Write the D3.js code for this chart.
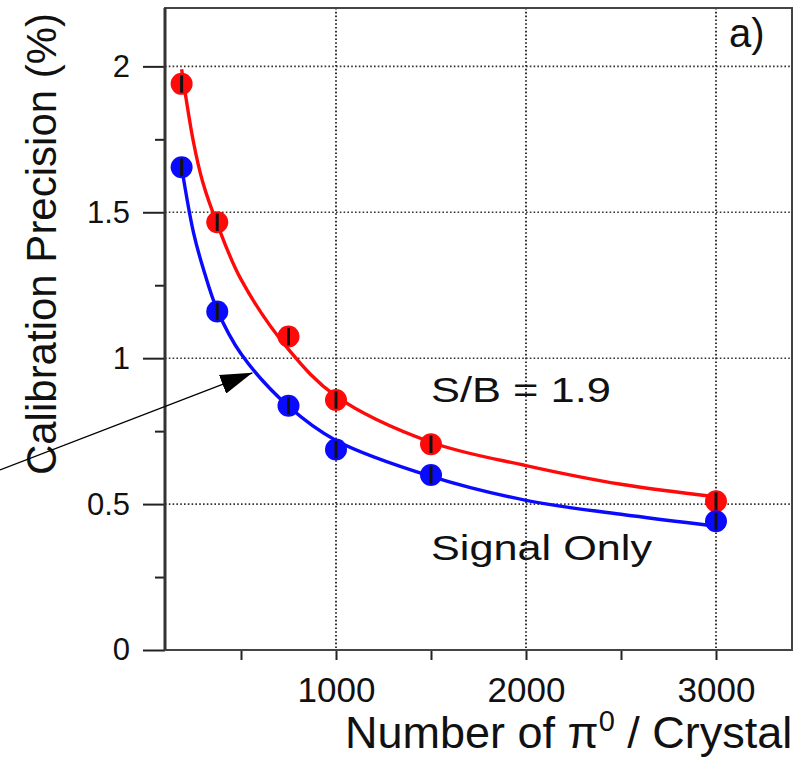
<!DOCTYPE html>
<html>
<head>
<meta charset="utf-8">
<script src="https://d3js.org/d3.v7.min.js"></script>
<style>
  body { margin: 0; background: #fff; }
  svg { display: block; }
  text { font-family: "Liberation Sans", Arial, Helvetica, sans-serif; fill: #111; }
</style>
</head>
<body>
<script>
// measured points (number of pi0 per crystal)
var nPi0 = [187.5, 375, 750, 1000, 1500, 3000];
var precSB = [1.94, 1.466, 1.074, 0.857, 0.705, 0.51];     // S/B = 1.9
var precSig = [1.654, 1.16, 0.837, 0.687, 0.6, 0.441];     // signal only
var errSB = [0.03, 0.03, 0.03, 0.03, 0.03, 0.03];
var errSig = [0.03, 0.03, 0.03, 0.03, 0.03, 0.03];

// fitted curves
var fitX = [187.5, 250, 300, 375, 500, 750, 1000, 1500, 2000, 2500, 3000];
var fitSB = [1.99, 1.74, 1.60, 1.46, 1.27, 1.03, 0.87, 0.712, 0.632, 0.568, 0.525];
var fitSig = [1.654, 1.43, 1.31, 1.165, 1.015, 0.835, 0.718, 0.595, 0.513, 0.465, 0.424];

var xMajor = [1000, 2000, 3000];
var xMinor = [500, 1500, 2500];
var yMajor = [0, 0.5, 1, 1.5, 2];
var yMinor = [0.25, 0.75, 1.25, 1.75];

var W = 809, H = 758;
var pL = 165, pR = 792, pT = 8, pB = 650;

var svg = d3.select("body").append("svg")
    .attr("width", W)
    .attr("height", H);

var x = d3.scaleLinear().domain([100, 3400]).range([pL, pR]);
var y = d3.scaleLinear().domain([0, 2.2]).range([pB, pT]);

// grid
svg.append("g").selectAll("line")
    .data(yMajor.filter(function (d) { return d > 0; }))
    .enter().append("line")
    .attr("x1", pL).attr("x2", pR)
    .attr("y1", function (d) { return y(d); })
    .attr("y2", function (d) { return y(d); })
    .attr("stroke", "#333").attr("stroke-width", 1.6)
    .attr("stroke-dasharray", "1.6,2.2");
svg.append("g").selectAll("line")
    .data(xMajor)
    .enter().append("line")
    .attr("y1", pT).attr("y2", pB)
    .attr("x1", function (d) { return x(d); })
    .attr("x2", function (d) { return x(d); })
    .attr("stroke", "#222").attr("stroke-width", 1.8)
    .attr("stroke-dasharray", "1.6,2.2");

// axes
var yAx = svg.append("g").attr("transform", "translate(" + pL + ",0)")
    .call(d3.axisLeft(y).tickValues(yMajor).tickSize(22).tickPadding(13)
      .tickFormat(function (d) { return d; }));
svg.append("g").attr("transform", "translate(" + pL + ",0)")
    .call(d3.axisLeft(y).tickValues(yMinor).tickSize(10).tickFormat(""));
var xAx = svg.append("g").attr("transform", "translate(0," + pB + ")")
    .call(d3.axisBottom(x).tickValues(xMajor).tickSize(10).tickPadding(17)
      .tickFormat(d3.format("d")));
svg.append("g").attr("transform", "translate(0," + pB + ")")
    .call(d3.axisBottom(x).tickValues(xMinor).tickSize(10).tickFormat(""));

svg.selectAll(".domain").remove();
svg.selectAll(".tick line").attr("stroke", "#222").attr("stroke-width", 2);
yAx.selectAll("text").style("font-size", "31px")
    .style("font-family", "Liberation Sans, Arial, sans-serif").attr("fill", "#111");
xAx.selectAll("text").style("font-size", "35px")
    .style("font-family", "Liberation Sans, Arial, sans-serif").attr("fill", "#111");

// frame
svg.append("rect")
    .attr("x", pL).attr("y", pT)
    .attr("width", pR - pL).attr("height", pB - pT)
    .attr("fill", "none").attr("stroke", "#444").attr("stroke-width", 2);
svg.append("line")
    .attr("x1", pL).attr("x2", pL).attr("y1", pT).attr("y2", pB)
    .attr("stroke", "#333").attr("stroke-width", 3);

// fitted curves
var line = d3.line()
    .x(function (d) { return x(d[0]); })
    .y(function (d) { return y(d[1]); })
    .curve(d3.curveCatmullRom.alpha(0.5));

svg.append("path")
    .datum(d3.zip(fitX, fitSB))
    .attr("d", line)
    .attr("fill", "none").attr("stroke", "#ff0a0a").attr("stroke-width", 3.4);
svg.append("path")
    .datum(d3.zip(fitX, fitSig))
    .attr("d", line)
    .attr("fill", "none").attr("stroke", "#0a0aff").attr("stroke-width", 3.4);

// points with error bars
function drawPoints(vals, errs, col) {
  var g = svg.append("g");
  var pts = d3.zip(nPi0, vals, errs);
  g.selectAll("circle").data(pts).enter().append("circle")
    .attr("cx", function (d) { return x(d[0]); })
    .attr("cy", function (d) { return y(d[1]); })
    .attr("r", 11)
    .attr("fill", col);
  g.selectAll("line").data(pts).enter().append("line")
    .attr("x1", function (d) { return x(d[0]); })
    .attr("x2", function (d) { return x(d[0]); })
    .attr("y1", function (d) { return y(d[1] - d[2]); })
    .attr("y2", function (d) { return y(d[1] + d[2]); })
    .attr("stroke", "#111").attr("stroke-width", 3);
}
drawPoints(precSB, errSB, "#ff0a0a");
drawPoints(precSig, errSig, "#0a0aff");

// labels
svg.append("text")
    .attr("x", 729).attr("y", 47)
    .style("font-size", "40px")
    .text("a)");
svg.append("text")
    .attr("x", 431).attr("y", 402)
    .style("font-size", "35px")
    .attr("textLength", 180).attr("lengthAdjust", "spacingAndGlyphs")
    .text("S/B = 1.9");
svg.append("text")
    .attr("x", 431).attr("y", 560)
    .style("font-size", "35px")
    .attr("textLength", 221).attr("lengthAdjust", "spacingAndGlyphs")
    .text("Signal Only");

// axis titles
svg.append("text")
    .attr("transform", "translate(56,244) rotate(-90)")
    .attr("text-anchor", "middle")
    .style("font-size", "42px")
    .text("Calibration Precision (%)");

var xt = svg.append("text")
    .attr("x", 345).attr("y", 748)
    .style("font-size", "45px");
xt.append("tspan").text("Number of \u03c0");
xt.append("tspan").attr("dy", -17).style("font-size", "29px").text("0");
xt.append("tspan").attr("dy", 17).text(" / Crystal");

// arrow annotation
var defs = svg.append("defs");
defs.append("marker")
    .attr("id", "ah")
    .attr("viewBox", "0 0 32 20")
    .attr("refX", 32).attr("refY", 10)
    .attr("markerWidth", 32).attr("markerHeight", 20)
    .attr("markerUnits", "userSpaceOnUse")
    .attr("orient", "auto")
    .append("path").attr("d", "M0,0 L32,10 L0,20 Z").attr("fill", "#000");

var arrowTip = [560, 0.95];
svg.append("line")
    .attr("x1", 0).attr("y1", 470)
    .attr("x2", x(arrowTip[0])).attr("y2", y(arrowTip[1]))
    .attr("stroke", "#000").attr("stroke-width", 1.3)
    .attr("marker-end", "url(#ah)");
</script>
</body>
</html>
